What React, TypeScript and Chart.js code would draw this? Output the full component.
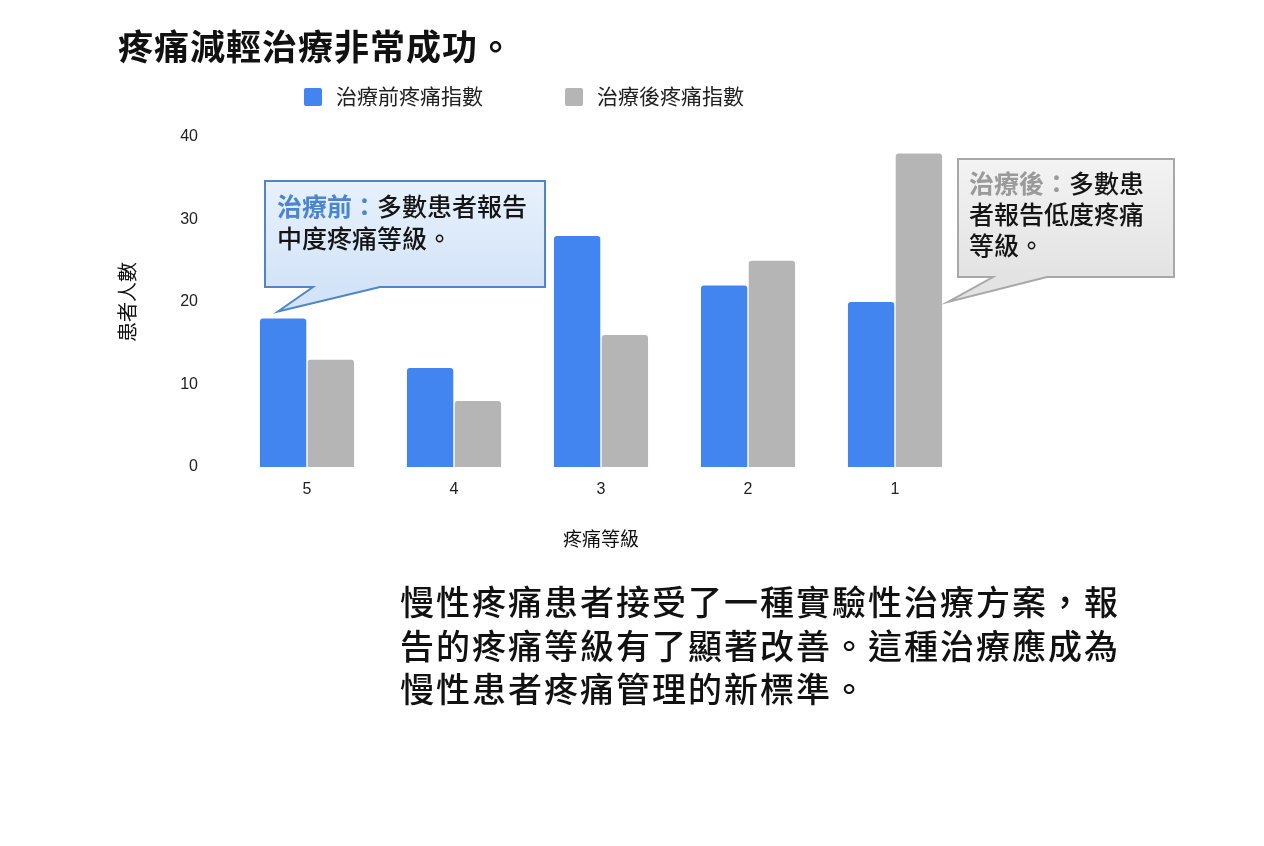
import React, { useEffect, useRef } from 'react';
import { Chart, registerables, Plugin } from 'chart.js';

Chart.register(...registerables);

const painLevels: string[] = ['5', '4', '3', '2', '1'];
const beforeCounts: number[] = [18, 12, 28, 22, 20];
const afterCounts: number[] = [13, 8, 16, 25, 38];
const seriesNames: string[] = ['治療前疼痛指數', '治療後疼痛指數'];

const BLUE = '#4285f0';
const GRAY = '#b5b5b5';
const CJK = "'Liberation Sans', 'Noto Sans CJK TC', sans-serif";

// legend drawn by hand so the two items sit where the original has them
const pairLegend: Plugin<'bar'> = {
  id: 'pairLegend',
  afterDraw(chart) {
    const ctx = chart.ctx;
    const xs = [304, 565];
    const cy = 97;
    ctx.save();
    chart.data.datasets.forEach((ds, i) => {
      ctx.fillStyle = ds.backgroundColor as string;
      ctx.beginPath();
      ctx.roundRect(xs[i], cy - 9, 18, 18, 2);
      ctx.fill();
      ctx.fillStyle = '#222';
      ctx.font = `21px ${CJK}`;
      ctx.textBaseline = 'middle';
      ctx.textAlign = 'left';
      ctx.fillText(ds.label as string, xs[i] + 32, cy + 1);
    });
    ctx.restore();
  },
};

type Callout = {
  box: [number, number, number, number];
  tailBase: [number, number];
  tip: [number, number];
  fill: [string, string];
  stroke: string;
  lead: string;
  leadColor: string;
  lines: string[];
  textX: number;
  textY: number;
  lineGap: number;
};

function drawCallout(ctx: CanvasRenderingContext2D, c: Callout) {
  const [x0, y0, x1, y1] = c.box;
  ctx.save();
  const g = ctx.createLinearGradient(0, y0, 0, y1);
  g.addColorStop(0, c.fill[0]);
  g.addColorStop(1, c.fill[1]);
  ctx.beginPath();
  ctx.moveTo(x0, y0);
  ctx.lineTo(x1, y0);
  ctx.lineTo(x1, y1);
  ctx.lineTo(c.tailBase[1], y1);
  ctx.lineTo(c.tip[0], c.tip[1]);
  ctx.lineTo(c.tailBase[0], y1);
  ctx.lineTo(x0, y1);
  ctx.closePath();
  ctx.fillStyle = g;
  ctx.fill();
  ctx.lineWidth = 2;
  ctx.strokeStyle = c.stroke;
  ctx.stroke();

  ctx.textBaseline = 'middle';
  ctx.textAlign = 'left';
  c.lines.forEach((line, i) => {
    let x = c.textX;
    const y = c.textY + i * c.lineGap;
    if (i === 0) {
      ctx.font = `bold 25px ${CJK}`;
      ctx.fillStyle = c.leadColor;
      ctx.fillText(c.lead, x, y);
      x += ctx.measureText(c.lead).width;
    }
    ctx.font = `500 25px ${CJK}`;
    ctx.fillStyle = '#151515';
    ctx.fillText(line, x, y);
  });
  ctx.restore();
}

const callouts: Plugin<'bar'> = {
  id: 'callouts',
  afterDraw(chart) {
    const ctx = chart.ctx;
    const yScale = chart.scales.y;
    const firstBlue = chart.getDatasetMeta(0).data[0] as any;
    const lastGray = chart.getDatasetMeta(1).data[4] as any;

    drawCallout(ctx, {
      box: [265, 181, 545, 287],
      tailBase: [313, 380],
      tip: [firstBlue.x - firstBlue.width / 2 + 18, firstBlue.y - 7],
      fill: ['#e8f1fc', '#d3e4f8'],
      stroke: '#4f86c8',
      lead: '治療前：',
      leadColor: '#4a86d0',
      lines: ['多數患者報告', '中度疼痛等級。'],
      textX: 277,
      textY: 209,
      lineGap: 32,
    });

    drawCallout(ctx, {
      box: [958, 159, 1174, 277],
      tailBase: [993, 1047],
      tip: [lastGray.x + lastGray.width / 2 + 6, yScale.getPixelForValue(20)],
      fill: ['#f3f3f3', '#e3e3e3'],
      stroke: '#a8a8a8',
      lead: '治療後：',
      leadColor: '#9a9a9a',
      lines: ['多數患', '者報告低度疼痛', '等級。'],
      textX: 969,
      textY: 186,
      lineGap: 31,
    });
  },
};

function PainChart() {
  const canvasRef = useRef<HTMLCanvasElement | null>(null);

  useEffect(() => {
    if (!canvasRef.current) return;
    const chart = new Chart(canvasRef.current, {
      type: 'bar',
      data: {
        labels: painLevels,
        datasets: [
          {
            label: seriesNames[0],
            data: beforeCounts,
            backgroundColor: BLUE,
            borderRadius: 3,
            categoryPercentage: 0.65,
            barPercentage: 0.97,
          },
          {
            label: seriesNames[1],
            data: afterCounts,
            backgroundColor: GRAY,
            borderRadius: 3,
            categoryPercentage: 0.65,
            barPercentage: 0.97,
          },
        ],
      },
      options: {
        responsive: false,
        animation: false,
        events: [],
        layout: { padding: { left: 100, right: 295.5, top: 137, bottom: 289 } },
        plugins: {
          legend: { display: false },
          tooltip: { enabled: false },
        },
        scales: {
          x: {
            grid: { display: false, drawTicks: false },
            border: { display: false },
            ticks: { color: '#222', font: { size: 16, family: CJK }, padding: 13 },
            title: {
              display: true,
              text: '疼痛等級',
              color: '#111',
              font: { size: 19, family: CJK },
              padding: { top: 0, bottom: 5 },
            },
            afterFit: (scale: any) => {
              scale.height = 90;
            },
          },
          y: {
            min: 0,
            max: 40,
            grid: { display: false, drawTicks: false },
            border: { display: false },
            ticks: { stepSize: 10, color: '#222', font: { size: 16, family: CJK }, padding: 35.5 },
            title: {
              display: true,
              text: '患者人數',
              color: '#111',
              font: { size: 20, family: CJK },
              padding: { top: 17, bottom: 0 },
            },
            afterFit: (scale: any) => {
              scale.width = 133.5;
            },
          },
        },
      },
      plugins: [pairLegend, callouts],
    });
    return () => chart.destroy();
  }, []);

  return <canvas ref={canvasRef} width={1264} height={846} style={{ position: 'absolute', left: 0, top: 0 }} />;
}

export default function App() {
  return (
    <div
      style={{
        position: 'fixed',
        left: 0,
        top: 0,
        width: 1264,
        height: 846,
        background: '#fff',
        fontFamily: CJK,
        color: '#111',
      }}
    >
      <PainChart />
      <div
        style={{
          position: 'absolute',
          left: 118,
          top: 30,
          fontSize: 35,
          fontWeight: 700,
          letterSpacing: 1,
          lineHeight: '36px',
          whiteSpace: 'nowrap',
        }}
      >
        疼痛減輕治療非常成功。
      </div>
      <div
        style={{
          position: 'absolute',
          left: 400,
          top: 582,
          fontSize: 34,
          fontWeight: 500,
          letterSpacing: 2,
          lineHeight: '43.5px',
          whiteSpace: 'nowrap',
        }}
      >
        慢性疼痛患者接受了一種實驗性治療方案，報
        <br />
        告的疼痛等級有了顯著改善。這種治療應成為
        <br />
        慢性患者疼痛管理的新標準。
      </div>
    </div>
  );
}
